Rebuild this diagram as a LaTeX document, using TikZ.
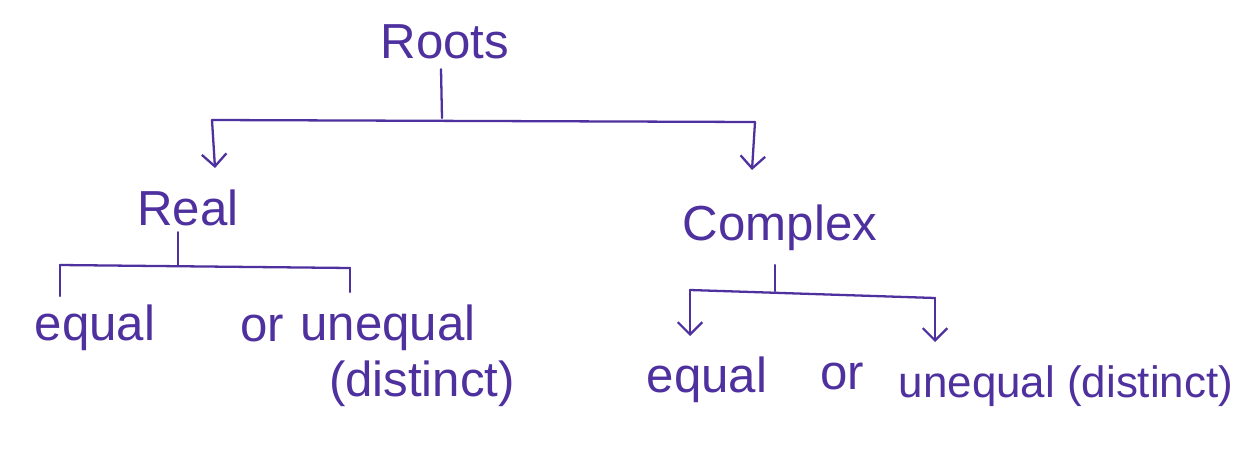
\documentclass[tikz,border=0pt]{standalone}
\usepackage{fontspec}
\setmainfont{Liberation Sans}
\usetikzlibrary{arrows.meta}
\definecolor{ink}{RGB}{78,48,158}
\newcommand{\setup}{
    \coordinate (top)   at (442,118);
    \coordinate (barL)  at (212,120);
    \coordinate (barR)  at (755,122);
    \coordinate (tipL)  at (215,168);
    \coordinate (tipR)  at (752,170);

    \coordinate (rmid)  at (178,265);
    \coordinate (rbarL) at (60,265);
    \coordinate (rbarR) at (350,268);
    \coordinate (rtL)   at (60,296);
    \coordinate (rtR)   at (350,292);

    \coordinate (cmid)  at (775,291);
    \coordinate (cbarL) at (690,290);
    \coordinate (cbarR) at (935,298);
    \coordinate (ctL)   at (690,336);
    \coordinate (ctR)   at (935,342);
}
\begin{document}
\begin{tikzpicture}[x=0.02cm,y=-0.02cm,
    every node/.style={text=ink,font=\fontsize{28}{32}\selectfont,inner sep=1pt},
    ln/.style={draw=ink,line width=1.3pt,line cap=round},
    arr/.style={ln,-{Straight Barb[length=7pt,width=14pt]}}]
          \useasboundingbox[fill=white] (0,0) rectangle (1247,450);
          \setup;

          \node (roots) at (445,42) {Roots};
          \node (real) at (188,208) {Real};
          \node (cplx) at (780,228) {Complex};

          \node (eqL) at (95,328) {equal};
          \node (orL) at (262,328) {or};
          \node (uneqL) at (388,328) {unequal};
          \node (distL) at (422,384) {(distinct)};

          \node (eqR) at (707,380) {equal};
          \node (orR) at (842,376) {or};
          \node[font=\fontsize{25}{30}\selectfont] (uneqR) at (1066,386) {unequal (distinct)};

          \draw[ln] (roots.south) ++(-4,8) -- (top); % stem
          \draw[ln] (barL) -- (barR);
          \draw[arr] (barL) -- (tipL);
          \draw[arr] (barR) -- (tipR);

          \draw[ln] (real.south) ++(-10,4) -- (rmid);
          \draw[ln] (rbarL) -- (rbarR);
          \draw[ln] (rbarL) -- (rtL);
          \draw[ln] (rbarR) -- (rtR);

          \draw[ln] (cplx.south) ++(-5,12) -- (cmid);
          \draw[ln] (cbarL) -- (cbarR);
          \draw[arr] (cbarL) -- (ctL);
          \draw[arr] (cbarR) -- (ctR);
        \end{tikzpicture}
\end{document}
